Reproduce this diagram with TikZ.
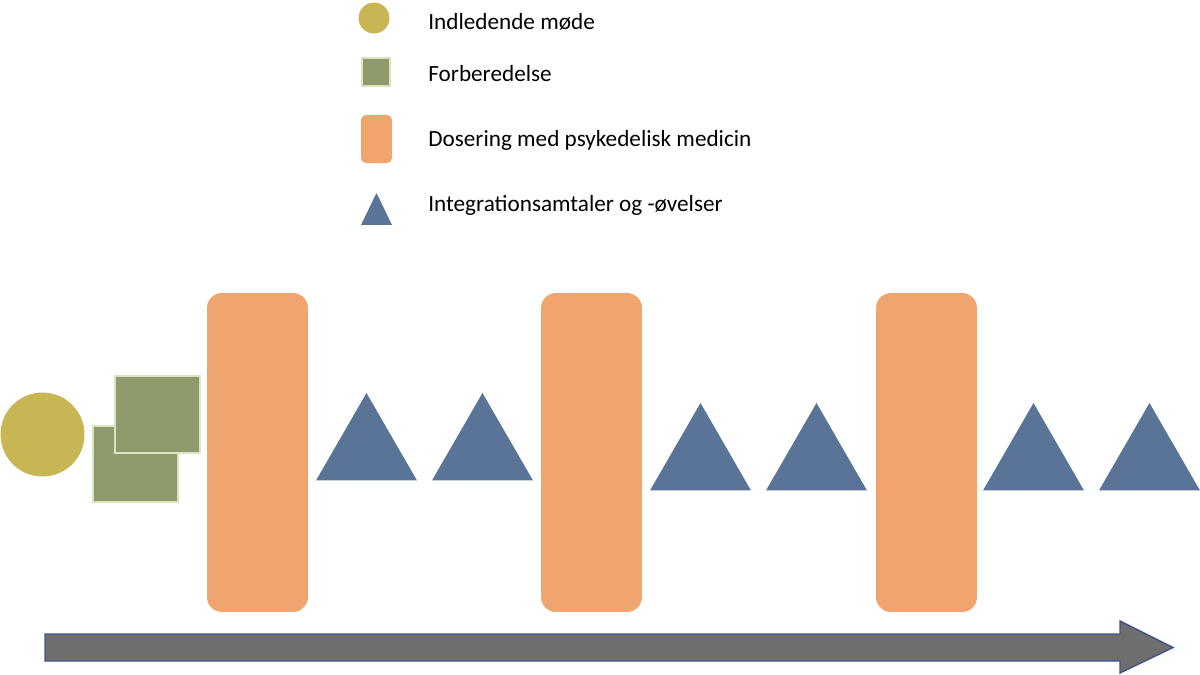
\documentclass[tikz,border=0pt]{standalone}
\usepackage{fontspec}
\setmainfont{Carlito}
\usepackage{tikz}
\usetikzlibrary{arrows.meta,shapes.geometric}

\definecolor{meetcol}{HTML}{C8B654}
\definecolor{prepcol}{HTML}{8F9A6C}
\definecolor{prepline}{HTML}{D9E4C0}
\definecolor{dosecol}{HTML}{F0A46E}
\definecolor{integcol}{HTML}{5A7498}
\definecolor{axiscol}{HTML}{6E6E6E}
\definecolor{axisline}{HTML}{3F5588}

\begin{document}
\begin{tikzpicture}[
    x=0.02cm, y=-0.02cm,     % one unit = one pixel of the slide
    node distance=2.32cm,    % spacing between triangles of a pair
    meeting/.style={circle, fill=meetcol, inner sep=0pt},
    prep/.style={rectangle, fill=prepcol, draw=prepline, line width=0.6pt, inner sep=0pt},
    dose/.style={rectangle, rounded corners=0.3cm, fill=dosecol, inner sep=0pt,
                 minimum width=2.02cm, minimum height=6.38cm},
    integ/.style={regular polygon, regular polygon sides=3, fill=integcol,
                  inner sep=0pt, minimum size=2.333cm},
    label/.style={anchor=west, inner sep=0pt, font=\fontsize{13.2}{15}\selectfont}]
    \useasboundingbox (0,0) rectangle (1200,674);

    % Legend
    \node[meeting, minimum size=0.62cm] (lm) at (374,18) {};
    \node[prep, minimum size=0.56cm] (lp) at (376,72) {};
    \node[dose, minimum width=0.62cm, minimum height=0.96cm, rounded corners=0.1cm] (ld) at (376.5,139) {};
    \node[integ, minimum size=0.716cm, yscale=1.19] (li) at (376.5,214.3) {};
    \node[label] (tm) at (428,22) {Indledende møde};
    \node[label] (tp) at (428,74) {Forberedelse};
    \node[label] (td) at (428,140) {Dosering med psykedelisk medicin};
    \node[label] (ti) at (428,205) {Integrationsamtaler og -øvelser};

    % Start
    \node[meeting, minimum size=1.68cm] (M) at (42.5,434.5) {};
    \node[prep, minimum width=1.7cm, minimum height=1.52cm] (P1) at (135.5,464) {};
    \node[prep, minimum width=1.7cm, minimum height=1.54cm] (P2) at (157.5,414.5) {};

    % Dosings
    \node[dose] (D1) at (257.5,452.5) {};
    \node[dose] (D2) at (591.5,452.5) {};
    \node[dose] (D3) at (926.5,452.5) {};

    % Integration triangles
    \node[integ] (T1) at (366.5,451.3) {};
    \node[integ] (T2) [right of=T1] {};
    \node[integ] (T3) at (700.5,461.3) {};
    \node[integ] (T4) [right of=T3] {};
    \node[integ] (T5) at (1033.5,461.3) {};
    \node[integ] (T6) [right of=T5] {};

    % Time axis
    \draw[fill=axiscol, draw=axisline, line width=0.8pt]
        (45,634) -- (1120,634) -- (1120,621) -- (1173,647.5)
        -- (1120,673) -- (1120,661) -- (45,661) -- cycle;
\end{tikzpicture}
\end{document}
